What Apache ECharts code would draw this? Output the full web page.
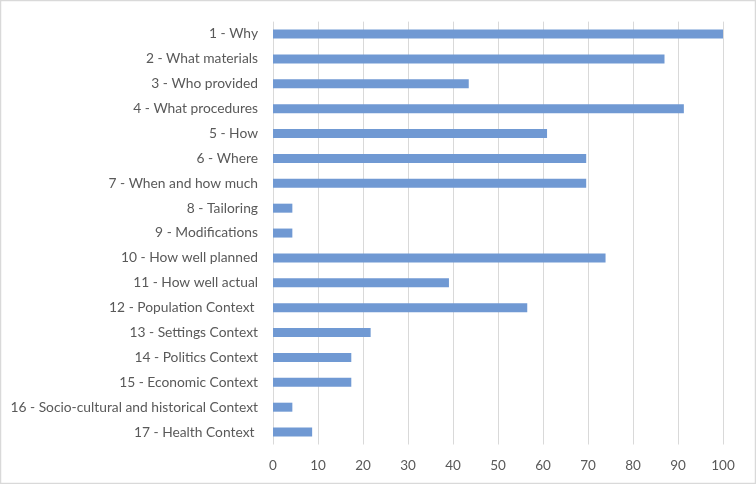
<!DOCTYPE html>
<html><head><meta charset="utf-8">
<script src="https://cdn.jsdelivr.net/npm/echarts@6/dist/echarts.min.js"></script>
<style>html,body{margin:0;padding:0;background:#fff}#c{width:756px;height:484px}</style>
</head><body><div id="c"></div>
<script>
const categories = ["1 - Why","2 - What materials","3 - Who provided","4 - What procedures","5 - How","6 - Where","7 - When and how much","8 - Tailoring","9 - Modifications","10 - How well planned","11 - How well actual","12 - Population Context ","13 - Settings Context","14 - Politics Context","15 - Economic Context","16 - Socio-cultural and historical Context","17 - Health Context "];
const values = [100, 87.0, 43.5, 91.3, 60.9, 69.6, 69.6, 4.3, 4.3, 73.9, 39.1, 56.5, 21.7, 17.4, 17.4, 4.3, 8.7];
const xTicks = [0,10,20,30,40,50,60,70,80,90,100];

const chart = echarts.init(document.getElementById('c'), null, {renderer:'canvas'});
chart.setOption({
  animation:false,
  graphic:[{type:'rect',shape:{x:0.5,y:0.5,width:755,height:483},style:{fill:null,stroke:'#d9d9d9',lineWidth:1.5},silent:true}],
  grid:{left:273,right:33,top:21.6,bottom:39.5,containLabel:false},
  xAxis:{type:'value',min:0,max:100,interval:10,
    axisLine:{show:false},axisTick:{show:false},
    splitLine:{show:true,lineStyle:{color:'#d9d9d9',width:1}},
    axisLabel:{color:'#595959',fontFamily:'Lato',fontSize:13.5,margin:14,
      formatter:(v)=>xTicks.includes(v)?String(v):''}},
  yAxis:{type:'category',data:categories,inverse:true,
    axisLine:{show:false},axisTick:{show:false},
    axisLabel:{color:'#595959',fontFamily:'Lato',fontSize:13.8,margin:15}},
  series:[{type:'bar',data:values,barWidth:9,itemStyle:{color:'#7099d3'}}]
});
</script></body></html>
